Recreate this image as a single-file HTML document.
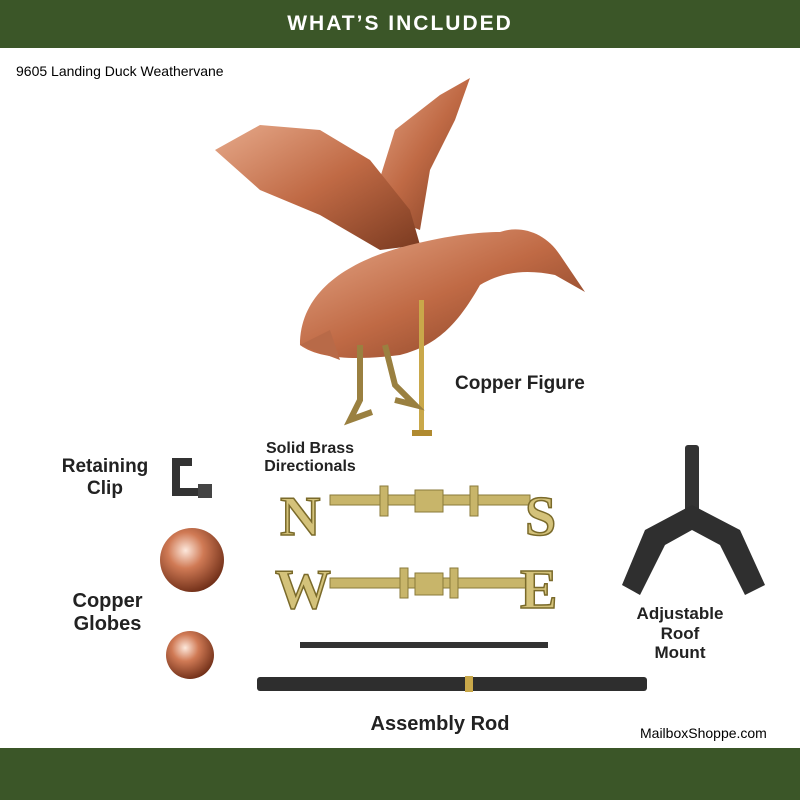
<!DOCTYPE html>
<html><head><meta charset="utf-8"><style>
body{margin:0;width:800px;height:800px;background:#fff;position:relative;overflow:hidden;font-family:"Liberation Sans",sans-serif}
.band{position:absolute;left:0;width:800px;background:#3b5628}
.t{position:absolute;font-weight:bold;color:#222;text-align:center;line-height:1.15}
</style></head><body>
<div class="band" style="top:0;height:48px"></div>
<div style="position:absolute;top:0;width:800px;height:48px;line-height:48px;text-align:center;color:#fff;font-weight:bold;font-size:21px;letter-spacing:2px">WHAT’S INCLUDED</div>
<div class="band" style="top:748px;height:52px"></div>
<div style="position:absolute;left:16px;top:63px;font-size:14px;color:#000">9605 Landing Duck Weathervane</div>
<div style="position:absolute;left:640px;top:725px;font-size:14px;color:#000">MailboxShoppe.com</div>
<svg width="800" height="800" style="position:absolute;left:0;top:0">
<defs>
<linearGradient id="cu" x1="0" y1="0" x2="1" y2="1"><stop offset="0" stop-color="#e6a98a"/><stop offset=".5" stop-color="#c06a45"/><stop offset="1" stop-color="#7a3a20"/></linearGradient>
<radialGradient id="gl" cx=".4" cy=".35" r=".7"><stop offset="0" stop-color="#fde8dc"/><stop offset=".4" stop-color="#d07a55"/><stop offset="1" stop-color="#6a2a14"/></radialGradient>
</defs>
<!-- duck wings -->
<polygon points="370,210 395,130 440,95 470,78 455,120 430,170 420,230" fill="url(#cu)"/>
<polygon points="215,150 260,125 320,130 370,160 410,210 420,245 380,250 320,215 260,190" fill="url(#cu)"/>
<!-- body -->
<path d="M300,345 C300,290 350,260 410,245 C450,235 480,232 500,232 C520,225 545,232 560,255 L585,292 L555,275 C530,270 505,270 480,285 C460,320 440,345 400,355 C360,360 320,360 300,345Z" fill="url(#cu)"/>
<polygon points="300,345 330,330 340,360" fill="#b86a48"/>
<!-- rod and legs -->
<rect x="419" y="300" width="5" height="132" fill="#c9a84a"/>
<rect x="412" y="430" width="20" height="6" fill="#b08a30"/>
<path d="M360,345 L360,400 L350,420 L372,412 M385,345 L395,385 L415,405 L395,400" stroke="#9a8040" stroke-width="6" fill="none"/>
<!-- retaining clip -->
<path d="M192,462 L176,462 L176,492 L208,492" stroke="#333" stroke-width="8" fill="none"/>
<rect x="198" y="484" width="14" height="14" fill="#444"/>
<!-- globes -->
<circle cx="192" cy="560" r="32" fill="url(#gl)"/>
<circle cx="190" cy="655" r="24" fill="url(#gl)"/>
<!-- directionals -->
<g fill="#c8b56a" stroke="#8a7a3a" stroke-width="1">
<rect x="330" y="495" width="200" height="10"/>
<rect x="330" y="578" width="200" height="10"/>
<rect x="380" y="486" width="8" height="30"/><rect x="470" y="486" width="8" height="30"/>
<rect x="400" y="568" width="8" height="30"/><rect x="450" y="568" width="8" height="30"/>
<rect x="415" y="490" width="28" height="22"/><rect x="415" y="573" width="28" height="22"/>
</g>
<g font-family="Liberation Serif,serif" font-weight="bold" font-size="56" fill="#d4c27a" stroke="#7a6a2a" stroke-width="1.5">
<text x="280" y="535">N</text><text x="525" y="535">S</text>
<text x="275" y="608">W</text><text x="520" y="608">E</text>
</g>
<!-- rods -->
<rect x="300" y="642" width="248" height="6" fill="#333"/>
<rect x="257" y="677" width="390" height="14" rx="3" fill="#2e2e2e"/>
<rect x="465" y="676" width="8" height="16" fill="#c9a84a"/>
<!-- roof mount -->
<rect x="685" y="445" width="14" height="75" rx="3" fill="#333"/>
<polygon points="645,530 692,505 740,530 765,585 745,595 720,545 692,530 665,545 640,595 622,585" fill="#2f2f2f"/>
</svg>
<div class="t" style="left:455px;top:373px;font-size:19px">Copper Figure</div>
<div class="t" style="left:250px;top:440px;width:120px;font-size:16px">Solid Brass<br>Directionals</div>
<div class="t" style="left:45px;top:456px;width:120px;font-size:19px">Retaining<br>Clip</div>
<div class="t" style="left:50px;top:590px;width:115px;font-size:20px">Copper<br>Globes</div>
<div class="t" style="left:630px;top:604px;width:100px;font-size:17px">Adjustable<br>Roof<br>Mount</div>
<div class="t" style="left:350px;top:713px;width:180px;font-size:20px">Assembly Rod</div>
</body></html>
